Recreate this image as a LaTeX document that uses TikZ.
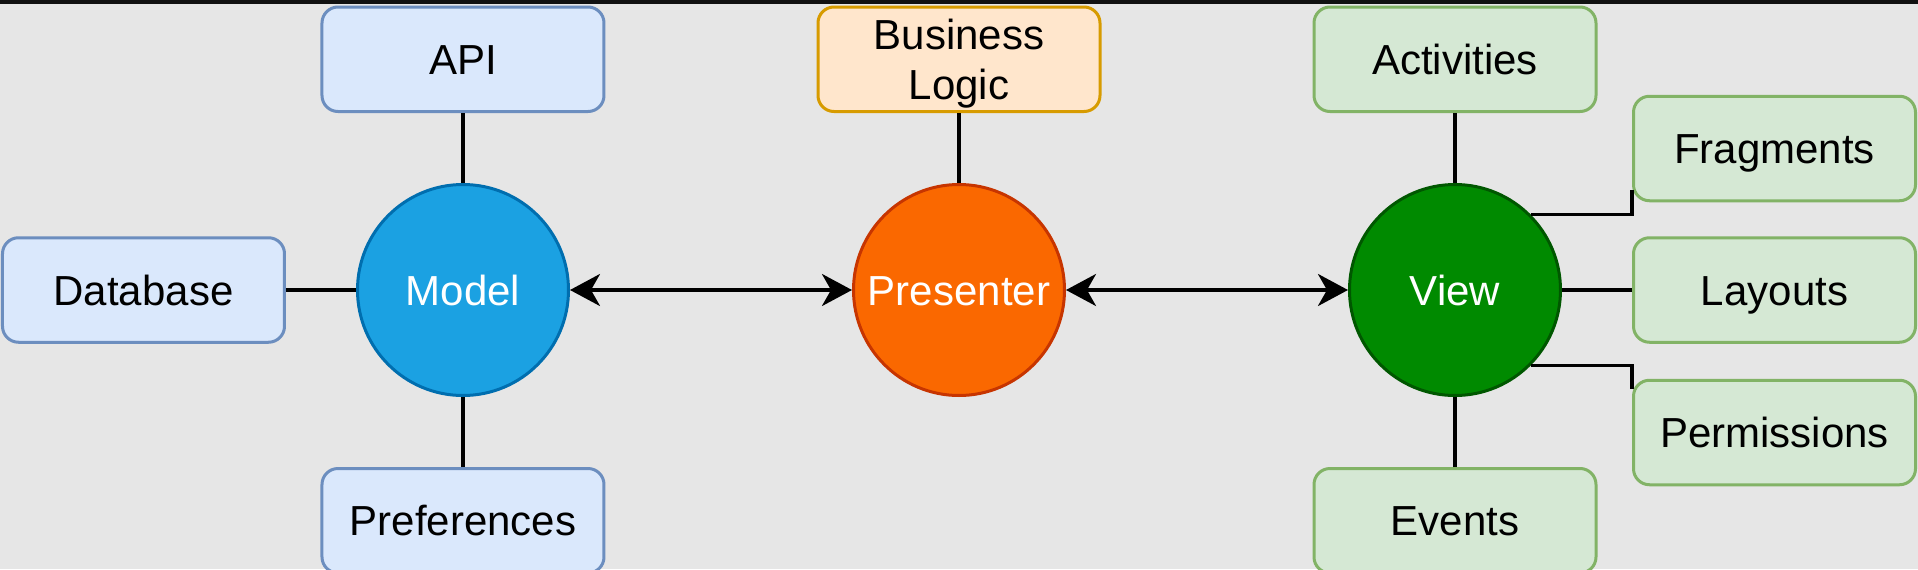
\documentclass[tikz,border=0pt]{standalone}
\usepackage{fontspec}
\setmainfont{Liberation Sans}
\usetikzlibrary{arrows.meta, positioning}
\definecolor{canvasgray}{HTML}{E6E6E6}
\definecolor{topbar}{HTML}{111111}
\definecolor{modelblue}{HTML}{1BA1E2}
\definecolor{modelline}{HTML}{006EAF}
\definecolor{presorange}{HTML}{FA6800}
\definecolor{presline}{HTML}{C73500}
\definecolor{viewgreen}{HTML}{008A00}
\definecolor{viewline}{HTML}{005700}
\definecolor{partblue}{HTML}{DAE8FC}
\definecolor{partblueline}{HTML}{6C8EBF}
\definecolor{partorange}{HTML}{FFE6CC}
\definecolor{partorangeline}{HTML}{D79B00}
\definecolor{partgreen}{HTML}{D5E8D4}
\definecolor{partgreenline}{HTML}{82B366}

\begin{document}
\begin{tikzpicture}[
    >={Stealth[length=15pt, width=16pt, inset=4.5pt]},
    hub/.style={circle, minimum size=105.5pt, inner sep=0pt, line width=1.5pt,
                font=\fontsize{21}{25}\selectfont\color{white}, text height=15pt, text depth=0pt},
    part/.style={draw, rounded corners=8pt, minimum width=141pt, minimum height=52.25pt,
                 line width=1.5pt, font=\fontsize{21}{25}\selectfont, align=center,
                 text height=15pt, text depth=0pt},
    link/.style={line width=1.75pt},
    arr/.style={<->, line width=1.75pt},
]

% Canvas
\useasboundingbox (-231.5pt,-139.5pt) rectangle (727.5pt,145pt);
\fill[canvasgray] (-231.5pt,-139.5pt) rectangle (727.5pt,145pt);
\fill[topbar] (-231.5pt,143pt) rectangle (727.5pt,145pt);

% Core: Model, Presenter, View
\node[hub, fill=modelblue, draw=modelline] (model) at (0,0) {Model};
\node[hub, fill=presorange, draw=presline, right=141pt of model] (presenter) {Presenter};
\node[hub, fill=viewgreen, draw=viewline, right=141pt of presenter] (view) {View};

% Model parts
\node[part, fill=partblue, draw=partblueline, above=35pt of model] (api) {API};
\node[part, fill=partblue, draw=partblueline, left=35pt of model] (database) {Database};
\node[part, fill=partblue, draw=partblueline, below=35pt of model] (prefs) {Preferences};

% Presenter part
\node[part, fill=partorange, draw=partorangeline, above=35pt of presenter,
      text height=40pt] (logic) {Business\\Logic};

% View parts
\node[part, fill=partgreen, draw=partgreenline, above=35pt of view] (activities) {Activities};
\node[part, fill=partgreen, draw=partgreenline, below=35pt of view] (events) {Events};
\node[part, fill=partgreen, draw=partgreenline, right=35pt of view] (layouts) {Layouts};
\node[part, fill=partgreen, draw=partgreenline, above=17pt of layouts] (fragments) {Fragments};
\node[part, fill=partgreen, draw=partgreenline, below=17.5pt of layouts] (permissions) {Permissions};

% Links
\draw[link] (api) -- (model);
\draw[link] (database) -- (model);
\draw[link] (prefs) -- (model);
\draw[link] (logic) -- (presenter);
\draw[link] (activities) -- (view);
\draw[link] (events) -- (view);
\draw[link] (view) -- (layouts);
\draw[link] (view.45) -| ([yshift=6pt]fragments.south west);
\draw[link] (view.-45) -| ([yshift=-5pt]permissions.north west);

% Arrows
\draw[arr] (model) -- (presenter);
\draw[arr] (presenter) -- (view);

\end{tikzpicture}
\end{document}
